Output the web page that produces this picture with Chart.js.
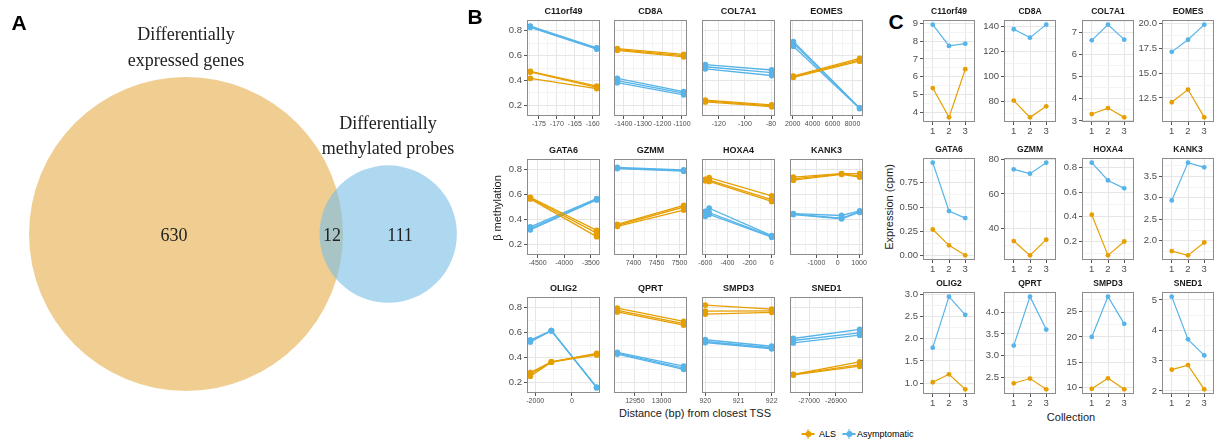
<!DOCTYPE html>
<html>
<head>
<meta charset="utf-8">
<script src="https://cdn.jsdelivr.net/npm/chart.js@4.4.1/dist/chart.umd.min.js"></script>
<style>
  body { margin: 0; background: #fff; }
  #fig { position: relative; width: 1224px; height: 444px; overflow: hidden; font-family: 'Liberation Sans', Arial, sans-serif; }
  #fig canvas { position: absolute; }
  .txt { position: absolute; white-space: nowrap; transform: translate(-50%, -50%); color: #1a1a1a; }
  .letter { font-weight: bold; font-size: 21px; color: #000; }
  .serif { font-family: 'Liberation Serif', 'Times New Roman', serif; font-size: 18px; color: #222; }
  .axt { font-size: 11px; }
  .rot { transform: translate(-50%, -50%) rotate(-90deg); }
  .key { position: absolute; width: 13px; height: 10px; transform: translate(-50%, -50%); }
  .key i { position: absolute; display: block; }
  .key .h { left: 0; top: 4.3px; width: 13px; height: 1.4px; }
  .key .v { left: 5.8px; top: 0; width: 1.4px; height: 10px; }
  .key .d { left: 3.5px; top: 2px; width: 6px; height: 6px; border-radius: 50%; }
  .leg { position: absolute; font-size: 9px; color: #000; transform: translateY(-50%); }
</style>
</head>
<body>
<div id="fig">
  <div class="txt letter" style="left:19px; top:23px">A</div>
  <div class="txt letter" style="left:475px; top:17px">B</div>
  <div class="txt letter" style="left:896px; top:22px">C</div>

  <div class="txt serif" style="left:186px; top:34px">Differentially</div>
  <div class="txt serif" style="left:186px; top:60px">expressed genes</div>
  <div class="txt serif" style="left:388px; top:123px">Differentially</div>
  <div class="txt serif" style="left:388px; top:148px">methylated probes</div>
  <div class="txt serif" id="n0" style="left:174px; top:235px"></div>
  <div class="txt serif" id="n1" style="left:332px; top:235px"></div>
  <div class="txt serif" id="n2" style="left:400px; top:235px"></div>

  <div class="txt axt rot" style="left:497px; top:208px">β methylation</div>
  <div class="txt axt" style="left:695px; top:413px">Distance (bp) from closest TSS</div>
  <div class="txt axt rot" style="left:889px; top:207px">Expression (cpm)</div>
  <div class="txt axt" style="left:1071px; top:417px">Collection</div>

  <div class="key" style="left:808px; top:434px"><i class="h" style="background:#E69F00"></i><i class="v" style="background:#E69F00"></i><i class="d" style="background:#E69F00"></i></div>
  <div class="leg" style="left:819px; top:434px">ALS</div>
  <div class="key" style="left:849px; top:434px"><i class="h" style="background:#56B4E9"></i><i class="v" style="background:#56B4E9"></i><i class="d" style="background:#56B4E9"></i></div>
  <div class="leg" style="left:857px; top:434px">Asymptomatic</div>
</div>
<script>
// ---- data ----
const vennCounts = [630, 12, 111];   // expression only, both, methylation only

const genes = ['C11orf49', 'CD8A', 'COL7A1', 'EOMES', 'GATA6', 'GZMM',
               'HOXA4', 'KANK3', 'OLIG2', 'QPRT', 'SMPD3', 'SNED1'];

// panel B: probe distance from TSS (bp), one line per collection
const probePos = [
    [-177.4, -158.9], [-1432, -1091], [-130.3, -79.5], [2060, 8720],
    [-4637, -3389], [7365, 7509], [-600, -565, 0], [-2080, 180, 1030],
    [-2268, -1121, 1346], [12917, 13041.5], [920, 922], [-27058.6, -26812]
];
const alsMeth = [
    [[0.473, 0.355], [0.468, 0.345], [0.417, 0.335]],
    [[0.655, 0.61], [0.648, 0.6], [0.642, 0.59]],
    [[0.243, 0.205], [0.236, 0.197], [0.228, 0.19]],
    [[0.435, 0.578], [0.43, 0.565], [0.425, 0.555]],
    [[0.578, 0.312], [0.572, 0.29], [0.565, 0.262]],
    [[0.36, 0.513], [0.352, 0.5], [0.345, 0.475]],
    [[0.722, 0.735, 0.59], [0.72, 0.715, 0.56], [0.71, 0.705, 0.545]],
    [[0.74, 0.768, 0.768], [0.725, 0.765, 0.75], [0.715, 0.762, 0.74]],
    [[0.278, 0.365, 0.432], [0.265, 0.365, 0.428], [0.25, 0.362, 0.42]],
    [[0.795, 0.69], [0.778, 0.671], [0.765, 0.66]],
    [[0.82, 0.787], [0.772, 0.773], [0.748, 0.762]],
    [[0.265, 0.364], [0.263, 0.343], [0.26, 0.33]]
];
const asymMeth = [
    [[0.836, 0.662], [0.832, 0.657], [0.826, 0.652]],
    [[0.417, 0.31], [0.398, 0.298], [0.382, 0.285]],
    [[0.527, 0.484], [0.51, 0.463], [0.493, 0.44]],
    [[0.712, 0.18], [0.699, 0.178], [0.675, 0.175]],
    [[0.34, 0.567], [0.327, 0.562], [0.317, 0.557]],
    [[0.817, 0.797], [0.812, 0.792], [0.808, 0.787]],
    [[0.465, 0.49, 0.27], [0.445, 0.455, 0.265], [0.425, 0.44, 0.258]],
    [[0.447, 0.432, 0.468], [0.443, 0.41, 0.462], [0.44, 0.405, 0.458]],
    [[0.54, 0.615, 0.16], [0.53, 0.615, 0.16], [0.525, 0.615, 0.158]],
    [[0.44, 0.33], [0.435, 0.315], [0.427, 0.305]],
    [[0.542, 0.49], [0.528, 0.478], [0.52, 0.47]],
    [[0.552, 0.625], [0.536, 0.598], [0.517, 0.579]]
];
const bXTicks = [
    [-175, -170, -165, -160], [-1400, -1300, -1200, -1100], [-120, -100, -80], [2000, 4000, 6000, 8000],
    [-4500, -4000, -3500], [7400, 7450, 7500], [-600, -400, -200, 0], [-1000, 0, 1000],
    [-2000, 0], [12950, 13000], [920, 921, 922], [-27000, -26900]
];
const bYTicks = [0.2, 0.4, 0.6, 0.8];
const bYLimits = [0.115, 0.885];

// panel C: expression (cpm) per collection
const collections = [1, 2, 3];
const alsExpr = [
    [5.36, 3.71, 6.42], [80.6, 67.2, 76.0], [3.31, 3.58, 3.16], [12.06, 13.34, 10.54],
    [0.27, 0.108, 0.005], [32.7, 24.4, 33.5], [0.417, 0.088, 0.2], [1.76, 1.66, 1.96],
    [1.02, 1.2, 0.86], [2.36, 2.47, 2.22], [9.7, 11.8, 9.6], [2.7, 2.85, 2.05]
];
const asymExpr = [
    [8.93, 7.73, 7.86], [137.6, 130.9, 141.3], [6.65, 7.36, 6.68], [17.13, 18.35, 19.87],
    [0.955, 0.459, 0.387], [74.2, 71.7, 78.1], [0.838, 0.694, 0.63], [2.94, 3.82, 3.71],
    [1.8, 2.95, 2.54], [3.23, 4.36, 3.6], [20, 28, 22.6], [5.11, 3.7, 3.17]
];
const cYTicks = [
    [4, 5, 6, 7, 8, 9], [80, 100, 120, 140], [3, 4, 5, 6, 7], [12.5, 15, 17.5, 20],
    [0, 0.25, 0.5, 0.75], [40, 60, 80], [0.2, 0.4, 0.6, 0.8], [2, 2.5, 3, 3.5],
    [1, 1.5, 2, 2.5, 3], [2.5, 3, 3.5, 4], [10, 15, 20, 25], [2, 3, 4, 5]
];

// ---- styling / layout ----
const ALS_COLOR = '#E69F00';
const ASYM_COLOR = '#56B4E9';
const GRID_MAJOR = '#E6E6E6';
const GRID_MINOR = '#F3F3F3';
const TICK_COLOR = '#555555';
const TITLE_H = 14;

const B_LEFTS = [527, 614, 702, 790], B_TOPS = [20, 159, 297], B_W = 73, B_H = 96;
const C_LEFTS = [923, 1004, 1082, 1162], C_TOPS = [20, 158, 292], C_W = 52, C_H = 102;

Chart.defaults.font.family = "'Liberation Sans', Arial, sans-serif";
Chart.defaults.color = '#4d4d4d';

const fig = document.getElementById('fig');

// frame round each panel, drawn over the data like ggplot's panel border
const panelBox = {
    id: 'panelBox',
    afterDatasetsDraw(chart) {
        const { ctx, chartArea: a } = chart;
        ctx.save();
        ctx.strokeStyle = '#8c8c8c';
        ctx.lineWidth = 1;
        ctx.strokeRect(Math.round(a.left) + 0.5, Math.round(a.top) + 0.5,
                       Math.round(a.width) - 1, Math.round(a.height) - 1);
        ctx.restore();
    }
};

function decimalsOf(v) {
    const s = String(v);
    const i = s.indexOf('.');
    return i < 0 ? 0 : s.length - i - 1;
}

function labelFormat(list) {
    const d = Math.max(...list.map(decimalsOf));
    return v => v.toFixed(d);
}

// major ticks plus minor grid lines half way between them
function tickList(major, min, max, withMinor) {
    const out = major.filter(v => v >= min && v <= max).map(v => ({ value: v }));
    if (withMinor && major.length > 1) {
        const step = major[1] - major[0];
        for (let i = -1; i < major.length; i++) {
            const m = major[0] + (i + 0.5) * step;
            if (m >= min && m <= max) out.push({ value: m, minorLine: true });
        }
    }
    return out.sort((a, b) => a.value - b.value);
}

function padRange(values, frac) {
    const lo = Math.min(...values), hi = Math.max(...values);
    const pad = (hi - lo) * frac;
    return [lo - pad, hi + pad];
}

function axisOpts(axis, range, ticks, fmt, fontSize, size, showLabels, pad) {
    return {
        type: 'linear',
        min: range[0],
        max: range[1],
        bounds: 'data',
        afterBuildTicks: s => { s.ticks = ticks.map(t => ({ ...t })); },
        afterFit: s => {
            if (axis === 'x') s.height = size; else s.width = size;
            s.paddingLeft = s.paddingRight = s.paddingTop = s.paddingBottom = 0;
        },
        border: { display: false },
        grid: {
            color: c => (c.tick && c.tick.minorLine ? GRID_MINOR : GRID_MAJOR),
            tickColor: c => (c.tick && c.tick.minorLine ? 'rgba(0,0,0,0)' : TICK_COLOR),
            tickLength: 3,
            drawTicks: showLabels,
            lineWidth: 1
        },
        ticks: {
            display: showLabels,
            autoSkip: false,
            maxRotation: 0,
            minRotation: 0,
            padding: pad,
            color: '#4d4d4d',
            font: { size: fontSize },
            callback: (v, i, arr) => (arr[i] && arr[i].minorLine ? '' : fmt(v))
        }
    };
}

function makePanel(o) {
    const cv = document.createElement('canvas');
    const cw = o.yw + o.w + o.rpad;
    const ch = TITLE_H + o.h + o.xh;
    cv.width = cw;
    cv.height = ch;
    cv.style.left = (o.left - o.yw) + 'px';
    cv.style.top = (o.top - TITLE_H) + 'px';
    cv.style.width = cw + 'px';
    cv.style.height = ch + 'px';
    fig.appendChild(cv);

    new Chart(cv, {
        type: 'scatter',
        data: { datasets: o.datasets },
        options: {
            responsive: false,
            animation: false,
            events: [],
            layout: { padding: { left: 0, top: 0, right: o.rpad, bottom: 0 }, autoPadding: false },
            plugins: {
                legend: { display: false },
                tooltip: { enabled: false },
                title: {
                    display: true,
                    text: o.title,
                    fullSize: false,
                    color: '#1a1a1a',
                    font: { size: o.titleSize, weight: 'bold', lineHeight: '12px' },
                    padding: { top: 0, bottom: 2 }
                }
            },
            scales: {
                x: axisOpts('x', o.xRange, tickList(o.xTicks, o.xRange[0], o.xRange[1], o.xMinor),
                            labelFormat(o.xTicks), o.xFont, o.xh, true, o.xPad),
                y: axisOpts('y', o.yRange, tickList(o.yTicks, o.yRange[0], o.yRange[1], true),
                            labelFormat(o.yTicks), o.yFont, o.yw, o.showY, 2)
            }
        },
        plugins: [panelBox]
    });
}

function lineSet(xs, ys, color, width, radius) {
    return {
        data: xs.map((x, i) => ({ x, y: ys[i] })),
        showLine: true,
        borderColor: color,
        backgroundColor: color,
        borderWidth: width,
        pointRadius: radius,
        pointBorderWidth: 0,
        pointBackgroundColor: color
    };
}

// ---- panel B ----
genes.forEach((g, k) => {
    const col = k % 4, row = Math.floor(k / 4);
    const ds = [];
    alsMeth[k].forEach(line => ds.push(lineSet(probePos[k], line, ALS_COLOR, 1.3, 2.9)));
    asymMeth[k].forEach(line => ds.push(lineSet(probePos[k], line, ASYM_COLOR, 1.3, 2.9)));
    makePanel({
        title: g, titleSize: 9,
        left: B_LEFTS[col], top: B_TOPS[row], w: B_W, h: B_H,
        yw: 30, xh: 16, rpad: 10,
        datasets: ds,
        xRange: padRange(probePos[k], 0.05), xTicks: bXTicks[k], xMinor: true, xFont: 7, xPad: 1,
        yRange: bYLimits, yTicks: bYTicks, yFont: 9.5, showY: col === 0
    });
});

// ---- panel C ----
genes.forEach((g, k) => {
    const col = k % 4, row = Math.floor(k / 4);
    makePanel({
        title: g, titleSize: 8.5,
        left: C_LEFTS[col], top: C_TOPS[row], w: C_W, h: C_H,
        yw: 28, xh: 16, rpad: 6,
        datasets: [
            lineSet(collections, alsExpr[k], ALS_COLOR, 1.2, 2.4),
            lineSet(collections, asymExpr[k], ASYM_COLOR, 1.2, 2.4)
        ],
        xRange: [0.4, 3.6], xTicks: collections, xMinor: false, xFont: 9.5, xPad: 1,
        yRange: padRange(alsExpr[k].concat(asymExpr[k]), 0.05), yTicks: cYTicks[k], yFont: 9.5, showY: true
    });
});

// ---- panel A: area-proportional Venn ----
const setA = vennCounts[0] + vennCounts[1];
const setB = vennCounts[2] + vennCounts[1];
const rA = Math.sqrt(setA / Math.PI);
const rB = Math.sqrt(setB / Math.PI);

function lensArea(d, r1, r2) {
    const a1 = r1 * r1 * Math.acos((d * d + r1 * r1 - r2 * r2) / (2 * d * r1));
    const a2 = r2 * r2 * Math.acos((d * d + r2 * r2 - r1 * r1) / (2 * d * r2));
    const k = 0.5 * Math.sqrt((-d + r1 + r2) * (d + r1 - r2) * (d - r1 + r2) * (d + r1 + r2));
    return a1 + a2 - k;
}

// centre distance giving an overlap area equal to the shared count
let lo = Math.abs(rA - rB) + 1e-6, hi = rA + rB - 1e-6;
for (let i = 0; i < 60; i++) {
    const mid = (lo + hi) / 2;
    if (lensArea(mid, rA, rB) > vennCounts[1]) lo = mid; else hi = mid;
}
const vennDist = (lo + hi) / 2;

['n0', 'n1', 'n2'].forEach((id, i) => { document.getElementById(id).textContent = vennCounts[i]; });

const vennCanvas = document.createElement('canvas');
vennCanvas.width = 470;
vennCanvas.height = 444;
vennCanvas.style.left = '0px';
vennCanvas.style.top = '0px';
vennCanvas.style.width = '470px';
vennCanvas.style.height = '444px';
fig.insertBefore(vennCanvas, fig.firstChild);

function unitRadius(r) {
    return ctx => {
        const s = ctx.chart.scales.x;
        const px = s.getPixelForValue(r) - s.getPixelForValue(0);
        return isFinite(px) && px > 0 ? px : 0;
    };
}

// Chart.js paints the first dataset last, so the methylation circle goes first to sit on top
new Chart(vennCanvas, {
    type: 'scatter',
    data: {
        datasets: [
            { data: [{ x: vennDist, y: 0 }], backgroundColor: 'rgba(120,190,230,0.6)', pointBorderWidth: 0,
              pointRadius: unitRadius(rB), clip: false },
            { data: [{ x: 0, y: 0 }], backgroundColor: 'rgba(225,157,37,0.5)', pointBorderWidth: 0,
              pointRadius: unitRadius(rA), clip: false }
        ]
    },
    options: {
        responsive: false,
        animation: false,
        events: [],
        layout: { padding: 0, autoPadding: false },
        plugins: { legend: { display: false }, tooltip: { enabled: false } },
        scales: {
            x: { display: false, min: -16.94, max: 25.86 },
            y: { display: false, min: -19.12, max: 21.31 }
        }
    }
});
</script>
</body>
</html>
